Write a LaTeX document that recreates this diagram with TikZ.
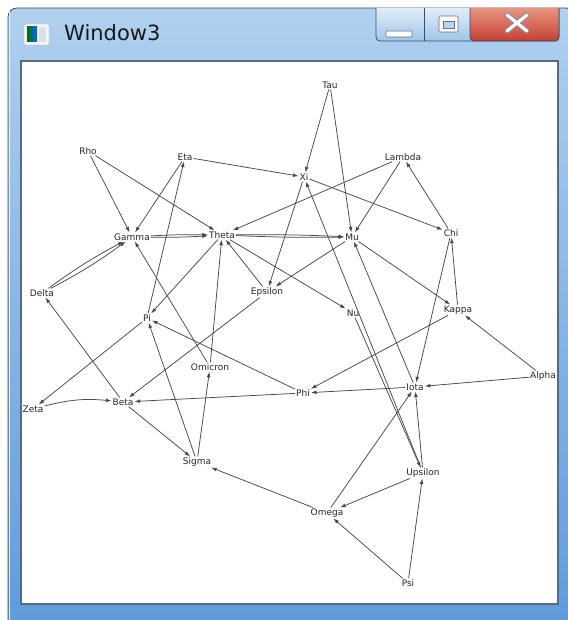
\documentclass[tikz,border=0pt]{standalone}
\usepackage{fontspec}
\setmainfont{DejaVu Sans}
\usetikzlibrary{arrows.meta}
\definecolor{frametop}{RGB}{176,208,238}
\definecolor{framebot}{RGB}{96,154,220}
\definecolor{frameline}{RGB}{52,78,110}
\definecolor{clientline}{RGB}{90,106,124}
\definecolor{edgecol}{RGB}{72,72,72}
\definecolor{btnblue}{RGB}{160,196,232}
\definecolor{btnred}{RGB}{196,64,50}
\definecolor{btnredtop}{RGB}{232,150,130}
\tikzset{
  lbl/.style={font=\fontsize{9}{10}\selectfont, text=black!85, inner sep=1pt},
  edge/.style={draw=edgecol, line width=0.75pt, -{Latex[length=5.5pt,width=3.8pt]}}
}
\begin{document}
\begin{tikzpicture}[x=1pt,y=-1pt]
\useasboundingbox (0,0) rectangle (567,620);
\fill[white] (0,0) rectangle (567,620);
% window frame
\shade[top color=frametop, bottom color=framebot, draw=frameline, line width=0.8pt, rounded corners=9pt]
  (8,8) rectangle (575,630);
\draw[white!70!frametop, line width=0.6pt, rounded corners=8pt] (9.5,9.5) -- (9.5,628);
% client area
\fill[white, draw=clientline, line width=1.4pt] (21,61) rectangle (558,604);
% icon
\fill[white!92!gray, draw=gray!60, rounded corners=1pt] (24,24) rectangle (49,45);
\fill[left color=green!45!black, right color=blue!60!cyan] (27,27) rectangle (37,42);
\fill[gray!25] (39,27) rectangle (46,42);
% title
\node[anchor=west, font=\fontsize{21}{22}\selectfont, text=black!90, inner sep=0pt] (title) at (64,33) {Window3};
% buttons
\shade[top color=white!70!btnblue, bottom color=btnblue, draw=frameline, line width=0.8pt, rounded corners=4pt]
  (376,8) -- (376,41) -- (559,41) -- (559,8);
\shade[top color=btnredtop, bottom color=btnred, draw=frameline, line width=0.8pt, rounded corners=4pt]
  (470,8) -- (470,41) -- (559,41) -- (559,8);
\draw[frameline, line width=0.8pt] (424,8.5) -- (424,41);
\fill[white, draw=frameline!80, line width=0.6pt, rounded corners=1pt] (386,31) rectangle (412,37);
\fill[white, draw=frameline!80, line width=0.6pt, rounded corners=1pt] (439,16) rectangle (458,32);
\fill[btnblue!70, draw=frameline!80, line width=0.6pt] (443,21) rectangle (454,28);
\draw[frameline!60, line width=5pt, line cap=round] (507,15) -- (527,31) (527,15) -- (507,31);
\draw[white, line width=3pt, line cap=round] (507,15) -- (527,31) (527,15) -- (507,31);
% nodes
\node[lbl] (tau) at (330,85) {Tau};
\node[lbl] (rho) at (88,151) {Rho};
\node[lbl] (eta) at (185,157) {Eta};
\node[lbl] (lambda) at (403,157) {Lambda};
\node[lbl] (xi) at (304,177) {Xi};
\node[lbl] (chi) at (451,233) {Chi};
\node[lbl] (gamma) at (132,237) {Gamma};
\node[lbl] (theta) at (222,235) {Theta};
\node[lbl] (mu) at (352,237) {Mu};
\node[lbl] (delta) at (42,293) {Delta};
\node[lbl] (epsilon) at (267,292) {Epsilon};
\node[lbl] (nu) at (353,313) {Nu};
\node[lbl] (kappa) at (458,310) {Kappa};
\node[lbl] (pi) at (147,318) {Pi};
\node[lbl] (omicron) at (210,367) {Omicron};
\node[lbl] (alpha) at (543,376) {Alpha};
\node[lbl] (iota) at (415,387) {Iota};
\node[lbl] (phi) at (303,393) {Phi};
\node[lbl] (zeta) at (33,409) {Zeta};
\node[lbl] (beta) at (123,402) {Beta};
\node[lbl] (sigma) at (197,462) {Sigma};
\node[lbl] (upsilon) at (423,473) {Upsilon};
\node[lbl] (omega) at (327,513) {Omega};
\node[lbl] (psi) at (408,583) {Psi};
% edges
\draw[edge] (tau) -- (xi);
\draw[edge] (tau) -- (mu);
\draw[edge] (rho) -- (gamma);
\draw[edge] (rho) -- (theta);
\draw[edge] (eta) -- (gamma);
\draw[edge] (eta) -- (xi);
\draw[edge] (pi) -- (eta);
\draw[edge] (lambda) -- (theta);
\draw[edge] (lambda) -- (mu);
\draw[edge] (chi) -- (lambda);
\draw[edge] (xi) -- (chi);
\draw[edge] (xi) -- (epsilon);
\draw[edge] (upsilon) -- (xi);
\draw[edge] (gamma) to[bend left=2] (theta);
\draw[edge] (gamma) to[bend right=2] (theta);
\draw[edge] (theta) to[bend left=1.5] (mu);
\draw[edge] (theta) to[bend right=1.5] (mu);
\draw[edge] (delta) to[bend left=4] (gamma);
\draw[edge] (delta) to[bend right=4] (gamma);
\draw[edge] (mu) -- (kappa);
\draw[edge] (mu) -- (epsilon);
\draw[edge] (iota) -- (mu);
\draw[edge] (theta) -- (nu);
\draw[edge] (nu) -- (upsilon);
\draw[edge] (epsilon) -- (theta);
\draw[edge] (epsilon) -- (beta);
\draw[edge] (theta) -- (pi);
\draw[edge] (omicron) -- (theta);
\draw[edge] (omicron) -- (gamma);
\draw[edge] (sigma) -- (omicron);
\draw[edge] (sigma) -- (pi);
\draw[edge] (phi) -- (pi);
\draw[edge] (pi) -- (zeta);
\draw[edge] (zeta) to[bend left=10] (beta);
\draw[edge] (phi) -- (beta);
\draw[edge] (beta) -- (delta);
\draw[edge] (beta) -- (sigma);
\draw[edge] (kappa) -- (chi);
\draw[edge] (chi) -- (iota);
\draw[edge] (alpha) -- (kappa);
\draw[edge] (alpha) -- (iota);
\draw[edge] (kappa) -- (phi);
\draw[edge] (iota) -- (phi);
\draw[edge] (omega) -- (iota);
\draw[edge] (upsilon) -- (iota);
\draw[edge] (upsilon) -- (omega);
\draw[edge] (psi) -- (omega);
\draw[edge] (psi) -- (upsilon);
\draw[edge] (omega) -- (sigma);
\end{tikzpicture}
\end{document}
